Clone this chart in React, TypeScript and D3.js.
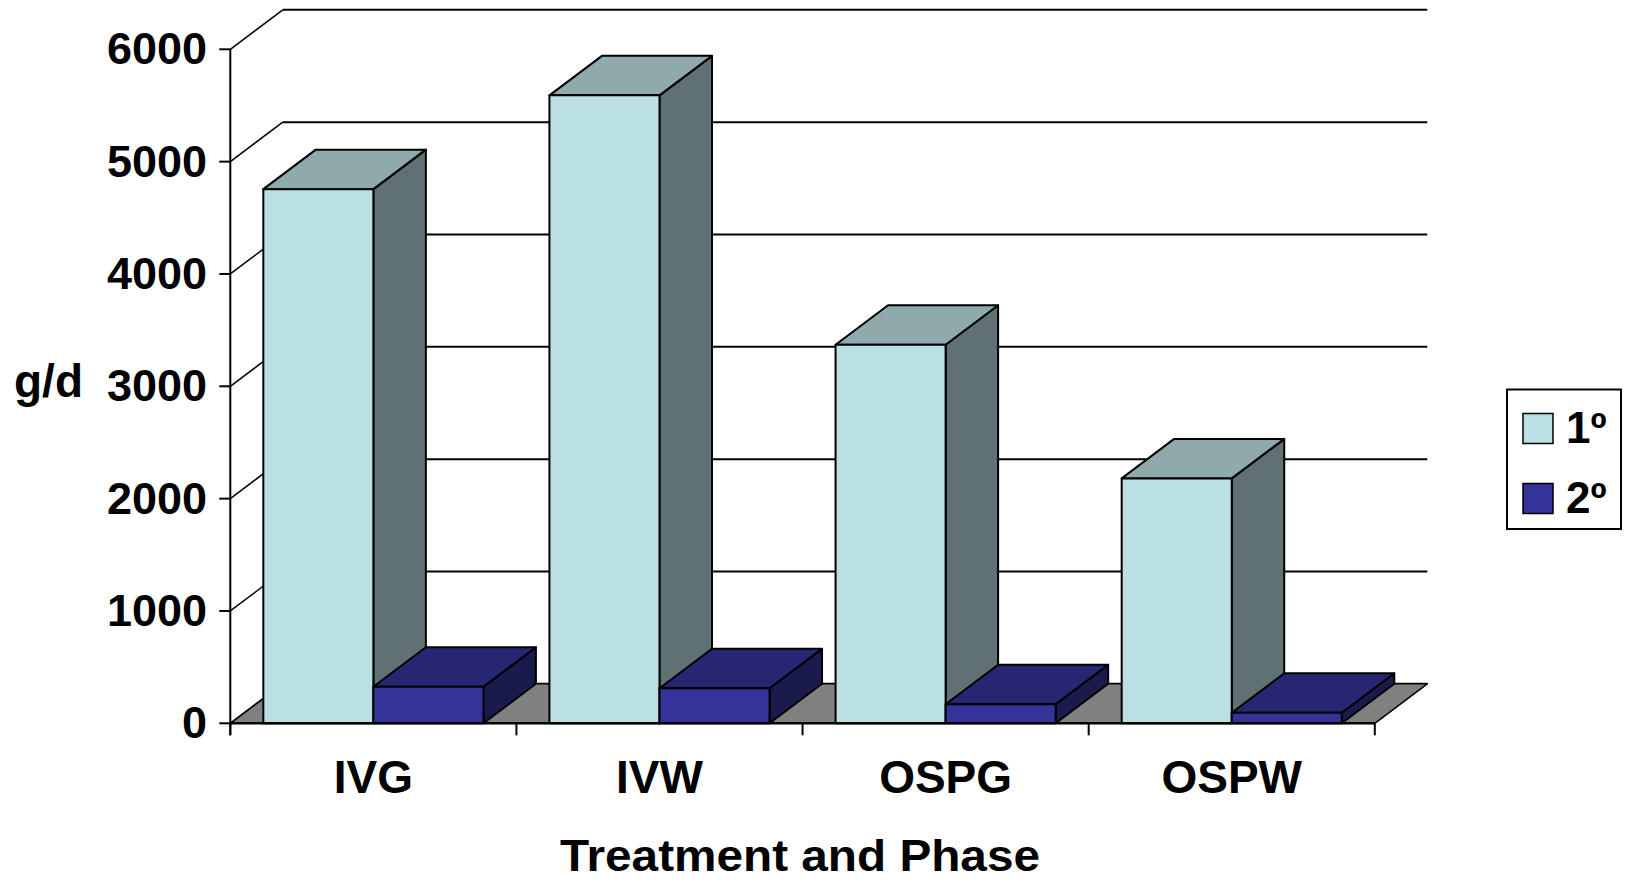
import React from "react";
import * as d3 from "d3";

const categories = ["IVG", "IVW", "OSPG", "OSPW"];
const seriesNames = ["1º", "2º"];
const primary = [4755, 5590, 3370, 2180];
const secondary = [325, 312, 170, 94];
const yTicks = [0, 1000, 2000, 3000, 4000, 5000, 6000];

const W = 1627;
const H = 882;
const DX = 52.5;
const DY = -39.5;
const FONT = "'Liberation Sans', Arial, Helvetica, sans-serif";

const faceColors = [
  { front: "#bbe0e3", top: "#8faaac", side: "#5f7173" },
  { front: "#333399", top: "#262673", side: "#1a1a4d" },
];

export default function App() {
  const y = d3.scaleLinear().domain([0, 6000]).range([723.3, 49.3]);
  const x0 = d3.scaleBand<string>().domain(categories).range([230.3, 1374.8]).padding(0);
  const x1 = d3
    .scaleBand<string>()
    .domain(seriesNames)
    .range([0, x0.step()])
    .paddingInner(0)
    .paddingOuter(0.3);
  const left = x0.range()[0];
  const right = x0.range()[1];
  const y0 = y(0);

  const bars: { x: number; w: number; top: number; c: typeof faceColors[0]; key: string }[] = [];
  categories.forEach((cat, i) => {
    [primary[i], secondary[i]].forEach((v, s) => {
      bars.push({
        x: (x0(cat) as number) + (x1(seriesNames[s]) as number),
        w: x1.bandwidth(),
        top: y(v),
        c: faceColors[s],
        key: cat + s,
      });
    });
  });

  const pts = (a: number[][]) => a.map((p) => p.join(",")).join(" ");

  return (
    <svg
      width={W}
      height={H}
      style={{ position: "absolute", left: 0, top: 0, display: "block", background: "#fff" }}
      fontFamily={FONT}
    >
      {/* back wall gridlines */}
      {yTicks.map((t) => (
        <line
          key={"g" + t}
          x1={left + DX}
          x2={right + DX}
          y1={y(t) + DY}
          y2={y(t) + DY}
          stroke="#000"
          strokeWidth={2}
        />
      ))}
      {/* left wall diagonals */}
      {yTicks.map((t) => (
        <line
          key={"d" + t}
          x1={left}
          x2={left + DX}
          y1={y(t)}
          y2={y(t) + DY}
          stroke="#000"
          strokeWidth={1.5}
        />
      ))}
      {/* floor */}
      <polygon
        points={pts([
          [left, y0],
          [right, y0],
          [right + DX, y0 + DY],
          [left + DX, y0 + DY],
        ])}
        fill="#808080"
        stroke="#000"
        strokeWidth={1.5}
        strokeLinejoin="round"
      />
      {/* bars */}
      {bars.map((b) => (
        <g key={b.key} stroke="#000" strokeWidth={2} strokeLinejoin="round">
          <polygon
            points={pts([
              [b.x + b.w, b.top],
              [b.x + b.w + DX, b.top + DY],
              [b.x + b.w + DX, y0 + DY],
              [b.x + b.w, y0],
            ])}
            fill={b.c.side}
          />
          <polygon
            points={pts([
              [b.x, b.top],
              [b.x + DX, b.top + DY],
              [b.x + b.w + DX, b.top + DY],
              [b.x + b.w, b.top],
            ])}
            fill={b.c.top}
          />
          <rect x={b.x} y={b.top} width={b.w} height={y0 - b.top} fill={b.c.front} />
        </g>
      ))}
      {/* y axis */}
      <line x1={left} x2={left} y1={y(6000)} y2={y0 + 12} stroke="#000" strokeWidth={2} />
      {yTicks.map((t) => (
        <g key={"t" + t}>
          <line x1={left - 11} x2={left} y1={y(t)} y2={y(t)} stroke="#000" strokeWidth={2} />
          <text
            x={207}
            y={y(t) + 15}
            textAnchor="end"
            fontSize={45}
            fontWeight="bold"
            fill="#000"
          >
            {t}
          </text>
        </g>
      ))}
      {/* x axis */}
      <line x1={left} x2={right} y1={y0} y2={y0} stroke="#000" strokeWidth={2.5} />
      {[...categories.map((c) => x0(c) as number), right].map((xv, i) => (
        <line key={"xt" + i} x1={xv} x2={xv} y1={y0} y2={y0 + 12} stroke="#000" strokeWidth={2} />
      ))}
      {categories.map((c) => (
        <text
          key={"xl" + c}
          x={(x0(c) as number) + x0.bandwidth() / 2}
          y={793}
          textAnchor="middle"
          fontSize={46}
          fontWeight="bold"
          fill="#000"
        >
          {c}
        </text>
      ))}
      {/* axis titles */}
      <text x={14} y={396.5} fontSize={46} fontWeight="bold" fill="#000">
        g/d
      </text>
      <text
        x={800}
        y={871}
        textAnchor="middle"
        fontSize={45}
        fontWeight="bold"
        fill="#000"
        textLength={480}
        lengthAdjust="spacingAndGlyphs"
      >
        Treatment and Phase
      </text>
      {/* legend */}
      <rect x={1507} y={389.5} width={114} height={139.5} fill="#fff" stroke="#000" strokeWidth={2} />
      {seriesNames.map((s, i) => (
        <g key={"lg" + s}>
          <rect
            x={1523}
            y={413.5 + i * 70}
            width={30}
            height={30}
            fill={faceColors[i].front}
            stroke="#000"
            strokeWidth={1.5}
          />
          <text x={1566} y={443 + i * 70} fontSize={44} fontWeight="bold" fill="#000">
            {s}
          </text>
        </g>
      ))}
    </svg>
  );
}
